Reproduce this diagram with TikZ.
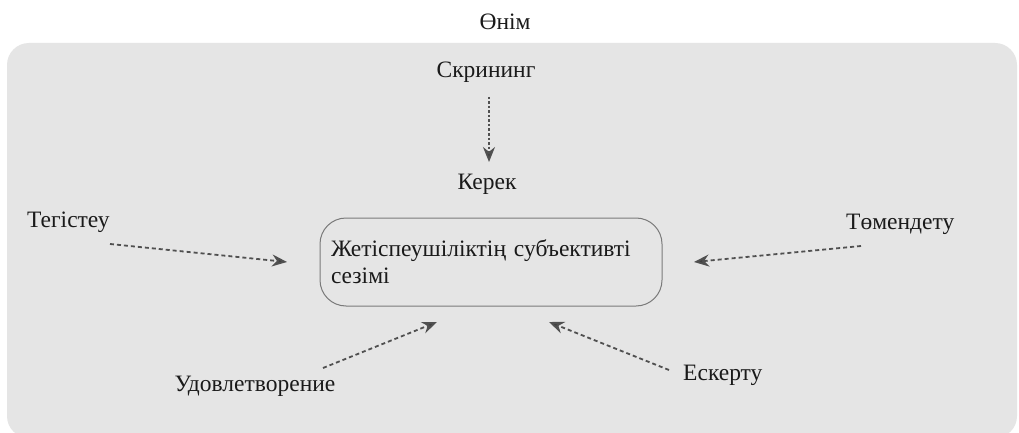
\documentclass[tikz,border=0pt]{standalone}
\usepackage{fontspec}
\setmainfont{Liberation Serif}
\usetikzlibrary{arrows.meta}
\definecolor{bg}{HTML}{E5E5E5}
\definecolor{txt}{HTML}{1A1A1A}
\definecolor{arrc}{HTML}{505050}
\definecolor{boxc}{HTML}{7A7A7A}
\tikzset{
  lbl/.style={inner sep=0pt, text=txt, font=\fontsize{23.5}{27}\selectfont},
  arr/.style={draw=arrc, line width=1.8pt, dash pattern=on 4pt off 3pt,
    -{Stealth[length=15pt,width=12pt,fill=arrc!80!black]}},
  core/.style={draw=boxc, line width=1pt, rounded corners=26pt, fill=bg,
    minimum width=342pt, minimum height=88pt, inner xsep=11pt,
    text width=320pt, align=left, text=txt, font=\fontsize{23.5}{27}\selectfont}
}
\begin{document}
\begin{tikzpicture}[x=1pt,y=-1pt]
\useasboundingbox (0,0) rectangle (1019,433);
\fill[white] (0,0) rectangle (1019,433);
\fill[bg, rounded corners=22pt] (7,43) rectangle (1017,438);
\node[lbl] (onim) at (505,22) {Өнім};
\node[lbl] (skr) at (486,72) {Скрининг};
\node[lbl] (ker) at (487,184) {Керек};
\node[core] (box) at (491,262) {Жетіспеушіліктің субъективті\\сезімі};
\node[lbl, anchor=west] (teg) at (27,222) {Тегістеу};
\node[lbl, anchor=west] (tom) at (846,224) {Төмендету};
\node[lbl] (udo) at (255,386) {Удовлетворение};
\node[lbl, anchor=west] (esk) at (683,375) {Ескерту};
\coordinate (s1) at (489,97);  \coordinate (e1) at (489,162);
\coordinate (s2) at (110,244); \coordinate (e2) at (287,262);
\coordinate (s3) at (861,246); \coordinate (e3) at (694,262);
\coordinate (s4) at (323,368); \coordinate (e4) at (437,322);
\coordinate (s5) at (669,370); \coordinate (e5) at (549,322);
\draw[arr, dash pattern=on 2.5pt off 2pt] (s1) -- (e1);
\draw[arr] (s2) -- (e2);
\draw[arr] (s3) -- (e3);
\draw[arr] (s4) -- (e4);
\draw[arr] (s5) -- (e5);
\end{tikzpicture}
\end{document}
